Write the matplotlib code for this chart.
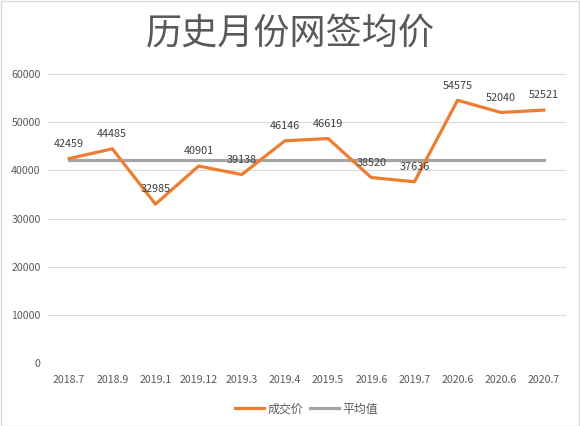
import matplotlib.pyplot as plt
from matplotlib.patches import Rectangle

plt.rcParams['font.family'] = ['Noto Sans CJK SC', 'DejaVu Sans']

months = ['2018.7', '2018.9', '2019.1', '2019.12', '2019.3', '2019.4',
          '2019.5', '2019.6', '2019.7', '2020.6', '2020.6', '2020.7']
prices = [42459, 44485, 32985, 40901, 39138, 46146,
          46619, 38520, 37636, 54575, 52040, 52521]
average = [42150] * len(months)

fig = plt.figure(figsize=(5.8, 4.26), dpi=100)
ax = fig.add_axes([0.082, 0.148, 0.893, 0.678])

x = range(len(months))
ax.plot(x, prices, color='#ED7D31', lw=2.3, label='成交价', solid_joinstyle='round', zorder=3)
ax.plot(x, average, color='#A5A5A5', lw=2.3, label='平均值', zorder=2)

# data labels above each point
for i, v in enumerate(prices):
    ax.annotate(str(v), (i, v), xytext=(0, 7), textcoords='offset points',
                ha='center', va='bottom', fontsize=7.8, color='#404040', zorder=4)

ax.set_xlim(-0.5, len(months) - 0.5)
ax.set_ylim(0, 60000)
ax.set_yticks(range(0, 60001, 10000))
ax.set_xticks(list(x))
ax.set_xticklabels(months)
ax.tick_params(axis='both', length=0, labelsize=7.6, colors='#595959')
ax.tick_params(axis='x', pad=9)
ax.tick_params(axis='y', pad=5)
ax.grid(axis='y', color='#D9D9D9', lw=0.8)
ax.set_axisbelow(True)
for s in ax.spines.values():
    s.set_visible(False)

fig.text(0.5, 0.922, '历史月份网签均价', ha='center', va='center',
         fontsize=26, color='#595959')

ax.legend(loc='upper center', bbox_to_anchor=(0.5, -0.1), ncol=2, frameon=False,
          fontsize=8.6, handlelength=2.4, handletextpad=0.3, columnspacing=0.6,
          labelcolor='#595959')

fig.patches.append(Rectangle((0.001, 0.001), 0.997, 0.997, transform=fig.transFigure,
                             fill=False, edgecolor='#D9D9D9', lw=1))

plt.savefig('out.png', dpi=100)
